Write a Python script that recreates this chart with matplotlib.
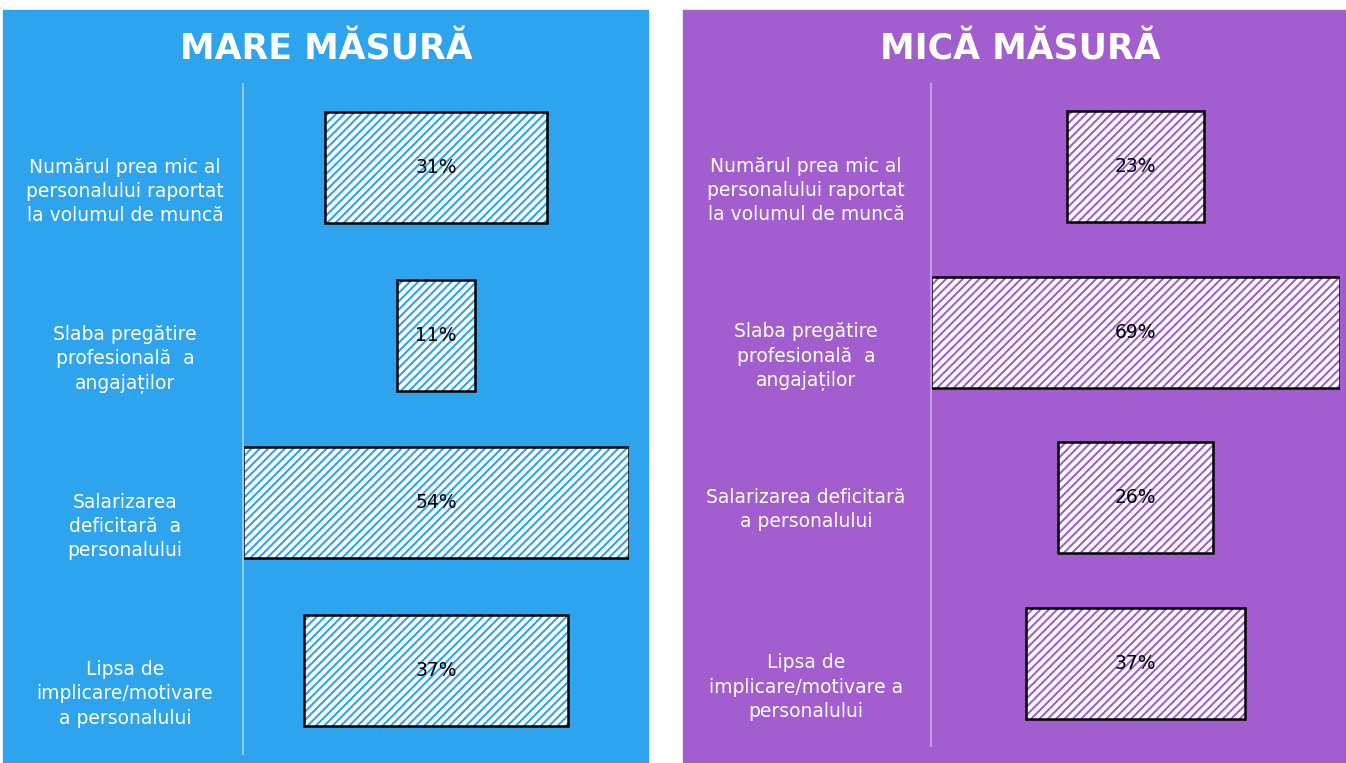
import matplotlib.pyplot as plt
from matplotlib.patches import Rectangle
from matplotlib.transforms import blended_transform_factory

# date
categorii_mare = ["Numărul prea mic al\npersonalului raportat\nla volumul de muncă",
                  "Slaba pregătire\nprofesională  a\nangajaților",
                  "Salarizarea\ndeficitară  a\npersonalului",
                  "Lipsa de\nimplicare/motivare\na personalului"]
valori_mare = [31, 11, 54, 37]

categorii_mica = ["Numărul prea mic al\npersonalului raportat\nla volumul de muncă",
                  "Slaba pregătire\nprofesională  a\nangajaților",
                  "Salarizarea deficitară\na personalului",
                  "Lipsa de\nimplicare/motivare a\npersonalului"]
valori_mica = [23, 69, 26, 37]

W, H = 1346, 763
ALBASTRU = "#2EA3EE"
MOV = "#A25ECF"

plt.rcParams['font.family'] = ['DejaVu Sans']
plt.rcParams['hatch.linewidth'] = 1.5

fig = plt.figure(figsize=(W / 100, H / 100), dpi=100)
fig.patch.set_facecolor("white")


def px(x0, y0, x1, y1):
    # pixeli (sus-stanga) -> coordonate figura
    return [x0 / W, 1 - y1 / H, (x1 - x0) / W, (y1 - y0) / H]


def panou(x0, x1, culoare, titlu, tx):
    fig.patches.append(Rectangle((x0 / W, 0), (x1 - x0) / W, 1 - 10 / H,
                                 transform=fig.transFigure, color=culoare, zorder=-5))
    fig.text(tx / W, 1 - 49 / H, titlu, ha="center", va="center", color="white",
             fontsize=25, fontweight="bold")


def bare(rect, valori, categorii, culoare, linie, lx, h):
    ax = fig.add_axes(rect)
    ax.patch.set_alpha(0)
    vmax = max(valori)
    y = list(range(len(valori)))
    stanga = [(vmax - v) / 2 for v in valori]
    ax.barh(y, valori, left=stanga, height=h, color="white", edgecolor=culoare,
            hatch="////", linewidth=0)
    ax.barh(y, valori, left=stanga, height=h, color="none", edgecolor="black",
            linewidth=1.8)
    for i, v in enumerate(valori):
        ax.text(stanga[i] + v / 2, i, f"{v}%", ha="center", va="center",
                fontsize=13.5, color="black")
    tr = blended_transform_factory(fig.transFigure, ax.transData)
    for i, c in enumerate(categorii):
        ax.text(lx / W, i - 0.06, c, transform=tr, ha="center", va="top",
                color="white", fontsize=13.5, linespacing=1.35)
    ax.set_xlim(0, vmax)
    ax.set_ylim(3.5, -0.5)
    for s in ["top", "right", "bottom"]:
        ax.spines[s].set_visible(False)
    ax.spines["left"].set_color(linie)
    ax.spines["left"].set_linewidth(1.5)
    ax.set_xticks([])
    ax.set_yticks([])
    return ax


panou(3, 648, ALBASTRU, "MARE MĂSURĂ", 326)
panou(683, 1346, MOV, "MICĂ MĂSURĂ", 1020)

bare(px(243, 84, 629, 754), valori_mare, categorii_mare, ALBASTRU, "#8fcaf5", 125, 0.66)
bare(px(931, 84, 1340, 746), valori_mica, categorii_mica, MOV, "#c69ae3", 806, 0.67)

fig.savefig("out.png", dpi=100)
